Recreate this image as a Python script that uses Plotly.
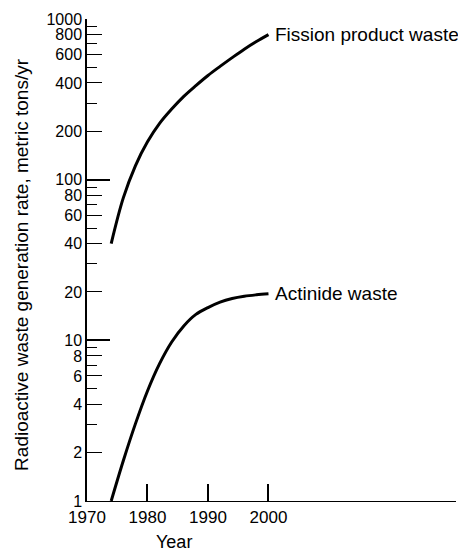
import math
import plotly.graph_objects as go

# Data
fission_years = [1974, 1976, 1978, 1980, 1982, 1984, 1986, 1988, 1990, 1992, 1994, 1996, 1998, 2000]
fission_values = [40, 77, 122, 172, 224, 275, 330, 385, 445, 507, 575, 649, 724, 800]

actinide_years = [1974, 1976, 1978, 1980, 1982, 1984, 1986, 1988, 1990, 1992, 1994, 1996, 1998, 2000]
actinide_values = [1.0, 1.78, 3.02, 4.84, 7.16, 9.77, 12.3, 14.5, 16.0, 17.3, 18.2, 18.8, 19.2, 19.5]

x_tick_vals = [1970, 1980, 1990, 2000]
x_tick_text = ["1970", "1980", "1990", "2000"]

y_label_vals = [1, 2, 4, 6, 8, 10, 20, 40, 60, 80, 100, 200, 400, 600, 800, 1000]
y_label_text = ["1", "2", "4", "6", "8", "10", "20", "40", "60", "80", "100",
                "200", "400", "600", "800", "1000"]
y_minor_vals = [3, 5, 7, 9, 30, 50, 70, 90, 300, 500, 700, 900]
y_decade_vals = [10, 100, 1000]

series_labels = ["Fission product waste", "Actinide waste"]
x_title = "Year"
y_title = "Radioactive waste generation rate, metric tons/yr"

FONT = "Liberation Sans, Arial, sans-serif"

fig = go.Figure()
fig.add_trace(go.Scatter(x=fission_years, y=fission_values, mode="lines",
                         line=dict(color="black", width=3, shape="spline"),
                         showlegend=False, hoverinfo="skip"))
fig.add_trace(go.Scatter(x=actinide_years, y=actinide_values, mode="lines",
                         line=dict(color="black", width=3, shape="spline"),
                         showlegend=False, hoverinfo="skip"))
# invisible trace for overlay axis (decade ticks)
fig.add_trace(go.Scatter(x=[fission_years[0]], y=[fission_values[0]], yaxis="y2",
                         mode="markers", marker=dict(opacity=0), showlegend=False,
                         hoverinfo="skip"))

fig.update_layout(
    template="none",
    width=458, height=552,
    margin=dict(l=87, r=2, t=19, b=51, autoexpand=False),
    paper_bgcolor="white", plot_bgcolor="white",
    font=dict(family=FONT, color="black", size=16),
    xaxis=dict(range=[1970, 2031], showgrid=False, zeroline=False, automargin=False,
               showline=True, linecolor="black", linewidth=1.2,
               tickmode="array", tickvals=x_tick_vals, ticktext=x_tick_text,
               ticks="inside", ticklen=17, tickwidth=1.5, tickcolor="black",
               tickfont=dict(size=17, family=FONT)),
    yaxis=dict(type="log", range=[0, 3], showgrid=False, zeroline=False, automargin=False,
               showline=True, linecolor="black", linewidth=1.5,
               tickmode="array", tickvals=y_label_vals, ticktext=y_label_text,
               ticks="inside", ticklen=15, tickwidth=1.2, tickcolor="black",
               tickfont=dict(size=16, family=FONT),
               minor=dict(tickmode="array", tickvals=y_minor_vals, ticks="inside",
                          ticklen=10, tickwidth=1.2, tickcolor="black", showgrid=False)),
    yaxis2=dict(type="log", range=[0, 3], overlaying="y", side="left", automargin=False,
                showgrid=False, zeroline=False, showline=False,
                tickmode="array", tickvals=y_decade_vals, showticklabels=False,
                ticks="inside", ticklen=23, tickwidth=1.5, tickcolor="black"),
)

# Annotation positions on a log axis are given in log10 units
fig.add_annotation(x=fission_years[-1], y=math.log10(fission_values[-1]), yref="y",
                   text=series_labels[0], showarrow=False, xanchor="left",
                   yanchor="middle", xshift=5, font=dict(size=19, family=FONT))
fig.add_annotation(x=actinide_years[-1], y=math.log10(actinide_values[-1]), yref="y",
                   text=series_labels[1], showarrow=False, xanchor="left",
                   yanchor="middle", xshift=5, font=dict(size=19, family=FONT))
fig.add_annotation(x=1984.3, y=0, xref="x", yref="paper", yshift=-41,
                   text=x_title, showarrow=False, xanchor="center", yanchor="middle",
                   font=dict(size=18, family=FONT))
fig.add_annotation(x=-0.176, y=0.49, xref="paper", yref="paper",
                   text=y_title, showarrow=False, textangle=-90,
                   xanchor="center", yanchor="middle",
                   font=dict(size=19, family=FONT))

fig.write_html("out.html",
               config={"displayModeBar": False},
               post_script="document.body.style.margin='0px';document.body.style.overflow='hidden';")
